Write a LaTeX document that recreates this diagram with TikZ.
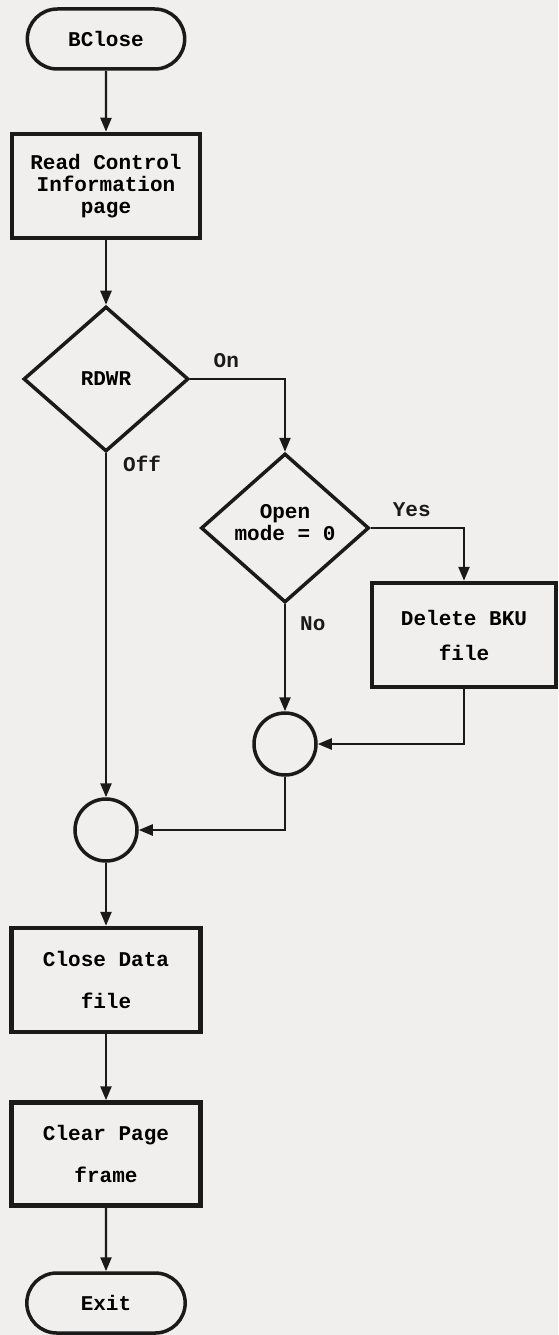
\documentclass[tikz,border=0pt]{standalone}
\usepackage{fontspec}
\setmainfont{Liberation Mono}
\usetikzlibrary{arrows.meta, positioning, shapes.geometric, shapes.misc}
\definecolor{cink}{HTML}{1A1A1A}
\definecolor{cpaper}{HTML}{F1EFED}
\tikzset{
  every picture/.style={font=\fontsize{21}{22}\selectfont\bfseries, line width=2.4pt},
  terminal/.style={draw=cink, rounded rectangle, minimum width=164pt, minimum height=60pt, line width=3.5pt},
  process/.style={draw=cink, rectangle, align=center, minimum width=188pt, minimum height=104pt, line width=4.5pt},
  decision/.style={draw=cink, diamond, aspect=1.13, align=center, inner sep=0pt, line width=3.5pt},
  joint/.style={draw=cink, circle, minimum size=62pt, inner sep=0pt, line width=3.5pt},
  arrow/.style={-{Triangle[length=14pt, width=11pt]}, draw=cink, line width=2.4pt},
  tag/.style={text=cink, inner sep=2pt},
}

\begin{document}
\begin{tikzpicture}[x=1pt, y=-1pt]
  \fill[cpaper] (0,0) rectangle (558,1335);
  \useasboundingbox (0,0) rectangle (558,1335);
  % main column
  \node[terminal] (bclose) at (106,39) {BClose};
  \node[process] (readcip) at (106,186) {Read Control\\Information\\page};
  \node[decision, minimum width=165pt, minimum height=145pt] (rdwr) at (106,379) {RDWR};
  % the On branch
  \node[decision, minimum width=168pt, minimum height=149pt] (openmode) at (285,528) {Open\\mode = 0\\[-10pt]~};
  \node[process, minimum width=184pt] (delbku) at (464,635) {Delete BKU\\[13pt]file};
  \node[joint] (joinon) at (285,744) {};
  % back on the main column
  \node[joint] (joinall) at (106,830) {};
  \node[process, minimum width=189pt] (closedata) at (106,980) {Close Data\\[20pt]file};
  \node[process, minimum width=189pt, minimum height=103pt] (clearpf) at (106,1154) {Clear Page\\[20pt]frame};
  \node[terminal, minimum width=165pt] (exit) at (106,1303) {Exit};
  % connectors
  \draw[arrow] (bclose) -- (readcip);
  \draw[arrow] (readcip) -- (rdwr);
  \draw[arrow] (rdwr.east) -| node[tag, above, pos=0.19, yshift=8pt] {On} (openmode.north);
  \draw[arrow] (rdwr.south) -- node[tag, anchor=west, pos=0.03, xshift=14pt] {Off} (joinall.north);
  \draw[arrow] (openmode.east) -| node[tag, above, pos=0.22, yshift=8pt] {Yes} (delbku.north);
  \draw[arrow] (openmode.south) -- node[tag, anchor=west, pos=0.18, xshift=12pt] {No} (joinon.north);
  \draw[arrow] (delbku.south) |- (joinon.east);
  \draw[arrow] (joinon.south) |- (joinall.east);
  \draw[arrow] (joinall) -- (closedata);
  \draw[arrow] (closedata) -- (clearpf);
  \draw[arrow] (clearpf) -- (exit);
\end{tikzpicture}
\end{document}
